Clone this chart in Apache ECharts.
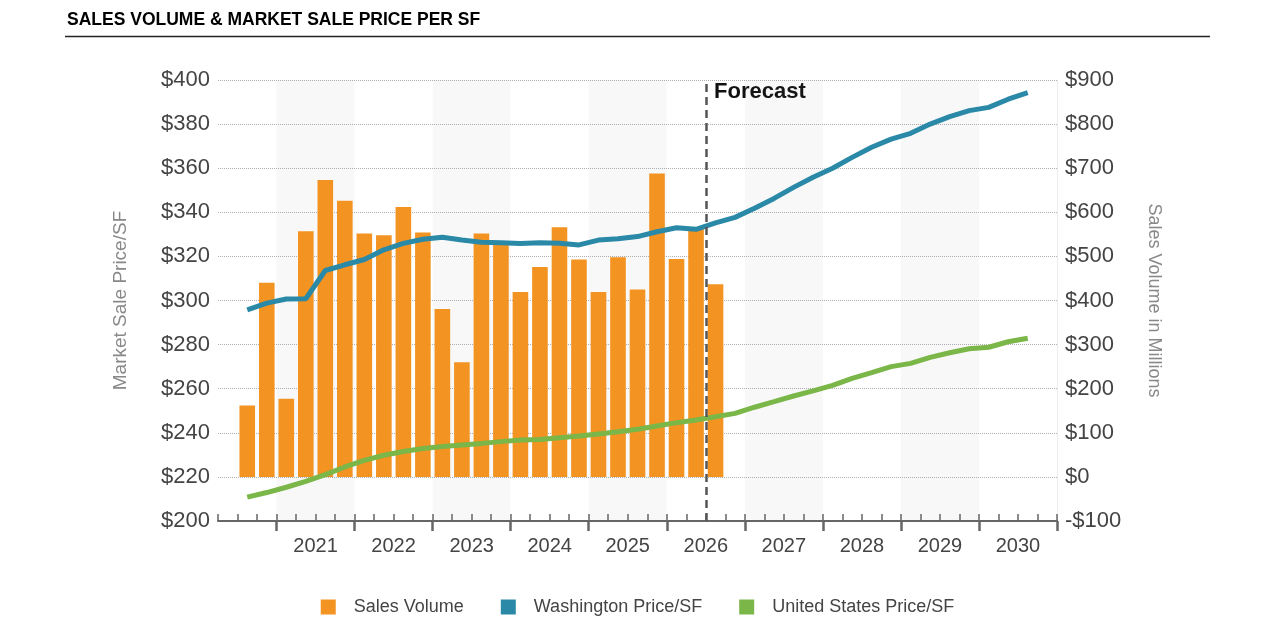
<!DOCTYPE html>
<html>
<head>
<meta charset="utf-8">
<title>Sales Volume &amp; Market Sale Price per SF</title>
<script src="https://cdn.jsdelivr.net/npm/echarts@6/dist/echarts.min.js"></script>
<style>
  html, body { margin: 0; padding: 0; background: #fff; }
  #chart { width: 1275px; height: 640px; }
</style>
</head>
<body>
<div id="chart"></div>
<script>
// quarters on the axis: 2020 Q2 .. 2030 Q4 (43 slots)
var quarters = [];
for (var y = 2020; y <= 2030; y++) {
  for (var q = 1; q <= 4; q++) {
    if (y === 2020 && q === 1) continue;
    quarters.push(y + ' Q' + q);
  }
}

// year labels, centred in each year band
var yearLabels = ['2021', '2022', '2023', '2024', '2025', '2026', '2027', '2028', '2029', '2030'];

// sales volume in millions, 2020 Q3 .. 2026 Q3
var salesVolume = [null,
  162, 440,
  177, 557, 673, 626,
  552, 548, 612, 554,
  381, 260, 552, 528,
  419, 476, 566, 493,
  419, 498, 425, 688,
  494, 562, 437];

// market sale price per SF, 2020 Q3 .. 2030 Q3
var washington = [null,
  295.8, 298.8,
  300.7, 300.8, 313.6, 316.2,
  318.6, 323.0, 325.9, 327.8,
  328.7, 327.4, 326.4, 326.2,
  325.9, 326.2, 326.0, 325.2,
  327.4, 328.0, 329.0, 331.2,
  333.0, 332.3, 335.2, 337.7,
  341.8, 346.3, 351.3, 355.9,
  360.0, 364.9, 369.5, 373.2,
  375.8, 380.0, 383.4, 386.1,
  387.6, 391.3, 394.3];

var unitedStates = [null,
  210.8, 212.9,
  215.3, 218.0, 221.0, 224.5,
  227.5, 229.8, 231.5, 232.9,
  233.8, 234.5, 235.2, 236.0,
  236.7, 237.0, 237.8, 238.5,
  239.5, 240.5, 241.6, 243.1,
  244.6, 245.8, 247.3, 248.8,
  251.6, 254.1, 256.7, 259.0,
  261.5, 264.7, 267.3, 270.0,
  271.5, 274.2, 276.3, 278.1,
  278.8, 281.3, 282.9];

// quarter boundaries (0..43) used for ticks, bands and the forecast line
var boundaries = [];
for (var i = 0; i <= quarters.length; i++) boundaries.push(String(i));
var firstYearBoundary = 3;   // start of 2021
var forecastBoundary = 25;   // start of 2026 Q3
var shadedYears = ['2021', '2023', '2025', '2027', '2029'];

function yearStart(label) {
  return firstYearBoundary + (parseInt(label, 10) - 2021) * 4;
}

var font = "'Liberation Sans', Arial, sans-serif";
var orange = '#f39322';
var blue = '#2a89a7';
var green = '#7ab648';

var bands = shadedYears.map(function (yr) {
  return [{ xAxis: yearStart(yr) }, { xAxis: yearStart(yr) + 4 }];
});

var myChart = echarts.init(document.getElementById('chart'));

var option = {
  animation: false,
  textStyle: { fontFamily: font },
  title: {
    text: 'SALES VOLUME & MARKET SALE PRICE PER SF',
    left: 62,
    top: 6,
    textStyle: { fontFamily: font, fontSize: 17.5, fontWeight: 'bold', color: '#000' }
  },
  graphic: [
    {
      type: 'line',
      shape: { x1: 65, y1: 36.5, x2: 1210, y2: 36.5 },
      style: { stroke: '#222', lineWidth: 1.5 }
    },
    {
      type: 'text',
      left: 714,
      top: 81,
      style: { text: 'Forecast', font: 'bold 22px ' + font, fill: '#111' }
    }
  ],
  legend: {
    left: 'center',
    top: 593,
    itemWidth: 15,
    itemHeight: 15,
    itemGap: 37,
    icon: 'rect',
    textStyle: { fontFamily: font, fontSize: 18, color: '#444', padding: [0, 0, 0, 13] },
    data: ['Sales Volume', 'Washington Price/SF', 'United States Price/SF']
  },
  grid: { left: 218, right: 218, top: 80, bottom: 119, containLabel: false },
  xAxis: [
    {
      // data axis, one slot per quarter
      type: 'category',
      data: quarters,
      boundaryGap: true,
      show: false
    },
    {
      // quarter boundaries: axis line, minor ticks, year labels
      type: 'category',
      data: boundaries,
      boundaryGap: false,
      position: 'bottom',
      axisLine: { show: true, lineStyle: { color: '#666', width: 2 } },
      axisTick: { show: true, inside: true, length: 7, interval: 0, lineStyle: { color: '#666', width: 1.5 } },
      axisLabel: {
        interval: 0,
        margin: 15,
        fontSize: 20,
        color: '#444',
        fontFamily: font,
        formatter: function (v, idx) {
          var k = idx - firstYearBoundary - 2;
          return (k >= 0 && k % 4 === 0) ? yearLabels[k / 4] : '';
        }
      },
      splitLine: { show: false }
    },
    {
      // major ticks at year boundaries
      type: 'category',
      data: boundaries,
      boundaryGap: false,
      position: 'bottom',
      axisLine: { show: false },
      axisTick: {
        show: true,
        length: 10,
        interval: function (idx) {
          return idx >= firstYearBoundary && (idx - firstYearBoundary) % 4 === 0;
        },
        lineStyle: { color: '#666', width: 2.5 }
      },
      axisLabel: { show: false },
      splitLine: { show: false }
    }
  ],
  yAxis: [
    {
      type: 'value',
      min: 200,
      max: 400,
      interval: 20,
      name: 'Market Sale Price/SF',
      nameLocation: 'middle',
      nameGap: 88,
      nameTextStyle: { fontFamily: font, fontSize: 19, color: '#888' },
      axisLine: { show: false },
      axisTick: { show: false },
      axisLabel: {
        margin: 8,
        fontSize: 22,
        color: '#444',
        fontFamily: font,
        formatter: function (v) { return '$' + v; }
      },
      splitLine: { show: true, lineStyle: { color: '#b0b0b0', type: 'dotted', width: 1 } }
    },
    {
      type: 'value',
      min: -100,
      max: 900,
      interval: 100,
      name: 'Sales Volume in Millions',
      nameLocation: 'middle',
      nameRotate: -90,
      nameGap: 88,
      nameTextStyle: { fontFamily: font, fontSize: 18, color: '#888' },
      axisLine: { show: true, lineStyle: { color: '#ececec', width: 1 } },
      axisTick: { show: false },
      axisLabel: {
        margin: 8,
        fontSize: 22,
        color: '#444',
        fontFamily: font,
        formatter: function (v) { return v < 0 ? '-$' + (-v) : '$' + v; }
      },
      splitLine: { show: false }
    }
  ],
  series: [
    {
      // year bands and forecast divider
      type: 'line',
      xAxisIndex: 1,
      yAxisIndex: 0,
      data: [],
      silent: true,
      z: 1,
      markArea: {
        silent: true,
        itemStyle: { color: 'rgba(120, 120, 140, 0.05)' },
        data: bands
      },
      markLine: {
        silent: true,
        symbol: ['none', 'none'],
        label: { show: false },
        lineStyle: { color: '#555', type: [8, 5], width: 2.5 },
        data: [{ xAxis: forecastBoundary }]
      }
    },
    {
      name: 'Sales Volume',
      type: 'bar',
      xAxisIndex: 0,
      yAxisIndex: 1,
      data: salesVolume,
      barCategoryGap: '20%',
      itemStyle: { color: orange },
      z: 2
    },
    {
      name: 'Washington Price/SF',
      type: 'line',
      xAxisIndex: 0,
      yAxisIndex: 0,
      data: washington,
      showSymbol: false,
      symbol: 'none',
      itemStyle: { color: blue },
      lineStyle: { color: blue, width: 5 },
      z: 4
    },
    {
      name: 'United States Price/SF',
      type: 'line',
      xAxisIndex: 0,
      yAxisIndex: 0,
      data: unitedStates,
      showSymbol: false,
      symbol: 'none',
      itemStyle: { color: green },
      lineStyle: { color: green, width: 5 },
      z: 4
    }
  ]
};

myChart.setOption(option);
</script>
</body>
</html>
